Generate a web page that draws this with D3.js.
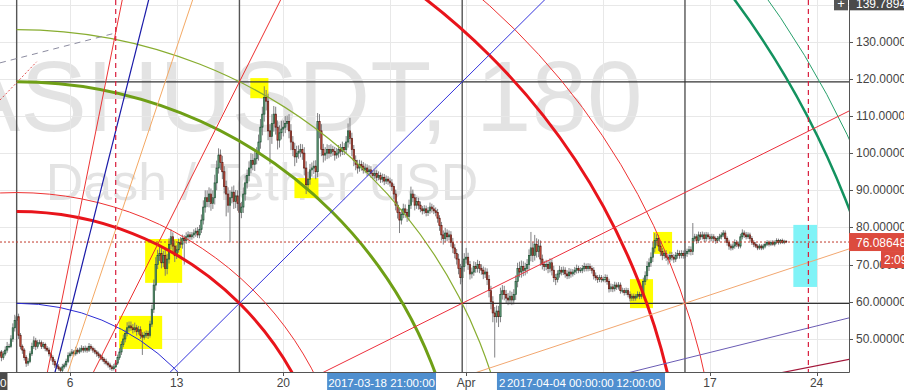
<!DOCTYPE html>
<html>
<head>
<meta charset="utf-8">
<script src="https://cdn.jsdelivr.net/npm/d3@7"></script>
<style>
  body { margin: 0; background: #fff; }
  svg { display: block; font-family: "Liberation Sans", Arial, sans-serif; }
</style>
</head>
<body>
<div id="chart"></div>
<script>
//////////
// DATA //
//////////

// 180 minute candles, first one opens 2017-03-01 00:00 UTC, one row per day
var firstCandle = "2017-03-01T00:00:00Z";
var candleHours = 3;
var firstOpen = 46.5;

var closes = [
  47, 46, 45.5, 46.5, 45, 46, 47, 48,
  48, 50, 53, 55, 56, 51, 48, 47,
  45, 43.5, 44, 46, 48, 49.5, 48, 49,
  49, 48, 48.5, 47.5, 47, 46, 45, 44,
  43, 42.5, 42, 41.5, 42.5, 43, 44, 45.5,
  46, 46.5, 46, 47, 46.5, 47, 47.5, 47,
  47.5, 47, 48, 47.5, 47, 46.5, 46, 45.5,
  45, 44.5, 44, 43.5, 43, 42.5, 42, 42.5,
  43.5, 45, 46.5, 48.5, 50, 51.5, 53, 53.5,
  53, 52.5, 53, 52, 52.5, 51, 50.5, 51,
  51.5, 51, 54, 58, 64.5, 70, 72.5, 73,
  70.5, 72.5, 69, 71.5, 75.5, 77.5, 75, 72.5,
  74, 76, 75.5, 77, 76.5, 77.5, 78, 77.5,
  78, 78.5, 79, 78, 79.5, 82, 85.5, 88,
  87, 89, 86.5, 88, 92, 96, 99.5, 97.5,
  95, 91, 89, 86, 88, 89.5, 87, 88.5,
  86.5, 84, 85.5, 89, 92, 94, 96, 98,
  97, 98.5, 100, 103, 107, 110.5, 115, 114,
  106, 104.5, 108, 110.5, 107, 103.5, 105.5, 106.5,
  107, 108, 108.5, 106, 103, 101, 99, 100,
  100.5, 101, 100, 96, 91.5, 93, 95.5, 96,
  96.5, 95, 108.5, 106, 101, 99.5, 100, 101,
  100, 101, 100.5, 99.5, 100, 101, 100.5, 101.5,
  101, 103, 106, 104, 101, 98, 97, 96,
  97, 96.5, 95.5, 96, 95, 95.5, 94.5, 94,
  94.5, 93.5, 94, 93, 93.5, 92.5, 93, 92.5,
  92, 91, 89, 86, 84, 82, 83.5, 85,
  84, 83, 86, 89, 88, 86, 87, 86,
  85, 84.5, 85, 84, 84.5, 85.5, 85, 84.5,
  84, 82.5, 80.5, 78, 77, 78.5, 77.5, 78,
  76, 74.5, 73, 71.5, 69, 66.5, 69.5, 71.5,
  72, 70, 67.5, 68, 69.5, 69, 70, 69,
  68.5, 67.5, 68, 66, 63, 60, 57, 56,
  57.5, 56, 62, 63, 62, 61, 60.5, 61.5,
  60.5, 62, 65.5, 69, 68, 69.5, 68.5, 69,
  70, 72.5, 74.5, 72.5, 75.5, 73.5, 75, 71.5,
  70, 69.5, 70, 69, 70.5, 68.5, 66.5, 66,
  67.5, 68.5, 68, 68.5, 67.5, 67, 68, 67.5,
  68, 68.5, 69, 68.5, 68.5, 69, 69.5, 69,
  69.5, 69, 68.5, 67, 66.5, 66, 66.5, 66,
  66, 66.5, 65.5, 63.5, 64, 63.5, 64.5, 64,
  64.5, 63, 63, 62.5, 63, 62, 61, 61.5,
  61, 61.5, 62, 61.5, 62, 65.5, 67, 69.5,
  70.5, 72, 74.5, 76.5, 77, 75, 73.5, 72.5,
  73, 72, 71.5, 72.5, 72, 71.5, 72.5, 73,
  72.5, 73, 72.5, 73, 73.5, 74, 73.5, 77,
  77.5, 76.5, 78, 77.5, 78, 77, 78, 77.5,
  77, 77.5, 77, 76.5, 77, 77.5, 78, 78.5,
  77, 76, 75, 74.5, 75, 76, 75.5, 75,
  77.5, 78.5, 78, 77.5, 78, 77, 76, 75.5,
  75, 74.5, 75, 74.5, 75, 75.5, 76, 75.5,
  76, 75.5, 76, 76.5, 76, 76.5, 76, 76.3,
  76.0865
];

// how far the high sits above the body top and the low under the body bottom
var upperWicks = [
  .8, .6, .7, 1, .5, .8, 1, 1.2,
  .7, 1, 1.2, 1.5, 3.6, .8, .6, .5,
  .5, .6, .8, .7, 1, 1.2, .8, .7,
  .8, .6, .7, .5, .6, .7, .5, .6,
  .6, .5, .7, .5, .8, .6, .7, .9,
  .6, .8, .5, .9, .6, .7, .8, .6,
  .7, .5, .9, .6, .5, .6, .5, .6,
  .5, .6, .5, .7, .5, .6, .5, .8,
  .6, .8, 1, .9, 1.2, 1, 1.5, 1.2,
  1.2, 1, 1.4, .8, 1, .9, .8, 1,
  .8, .7, .9, 1.2, 1.5, 2, 1.5, 1.8,
  1.5, 1.2, 1.8, 1.4, 1.6, 2, 1.2, 1.5,
  1.2, 1, 1.4, 1.1, .9, 1.2, 1, .8,
  .8, 1, .9, 1.1, 1.2, 1.5, 1.8, 2,
  2, 1.8, 1.5, 2, 2.2, 2, 1.8, 1.5,
  1.8, 1.5, 1.6, 1.8, 2, 1.5, 1.8, 1.6,
  1.5, 1.6, 1.4, 1.8, 2, 1.6, 1.8, 2,
  1.8, 2, 1.6, 2, 2.2, 2, 3, 2,
  2, 1.8, 2.5, 2.2, 2, 1.8, 2, 2.2,
  1.8, 2, 1.6, 2, 1.8, 1.6, 1.8, 2,
  1.6, 1.5, 1.4, 1.6, 1.8, 2, 1.6, 1.5,
  1.5, 1.6, 2.3, 2, 1.8, 1.5, 1.6, 1.4,
  1.2, 1.4, 1, 1.2, 1.4, 1.2, 1.5, 1.6,
  1.2, 1.6, 2, 3.5, 1.5, 1.2, 1.4, 1.2,
  1.2, 1, 1.1, 1.2, 1, 1.2, 1, .9,
  1, .9, 1.1, .8, 1, .9, 1, .8,
  .9, 1, .8, 1.2, 1, 1.2, 1.5, 1.4,
  1.2, 1, 1.5, 2, 1.2, 1, 1.2, 1,
  1, .8, 1, .9, 1, 1.2, .9, 1,
  .9, 1, .8, 1, 1.2, 1.4, 1, 1.2,
  1, 1.2, 1, 1.2, 1.4, 1.2, 1.5, 1.6,
  2.5, 1.2, 1, 1.2, 1.4, 1.2, 1.3, 1,
  1.1, 1, 1.2, 1, 1.2, 1.3, 1.5, 1.6,
  1.5, 1.4, 1.8, 1.5, 1.3, 1.2, 1.4, 1.5,
  1.2, 1.4, 1.6, 1.5, 1.8, 1.6, 1.4, 1.5,
  1.5, 1.6, 4.3, 1.5, 2.5, 1.6, 1.8, 1.5,
  1.2, 1, 1.3, 1.1, 1.2, 1, 1.2, 1,
  1, 1.2, .9, 1, .8, 1, 1.1, .9,
  .8, .9, 1, .7, .8, .9, 1, .8,
  .9, .8, .7, .8, .9, .7, .8, .7,
  .8, .9, .8, .7, .9, .8, .9, .7,
  .8, .7, .8, .7, .8, .7, .8, .7,
  .7, .6, .8, .7, .8, 1, 1.2, 1.4,
  1.2, 1.3, 1.5, 2, 1.2, 1, 1.1, 1,
  1, .9, .8, 1, .9, .8, .9, 1,
  .8, .9, .8, .9, .8, 1, .9, 4.2,
  .8, .7, .9, .8, .9, .7, .8, .7,
  .7, .8, .7, .6, .7, .8, .7, .8,
  .7, .6, .7, .6, .7, .8, .6, .7,
  .8, 1, .7, .8, .7, .6, .7, .6,
  .6, .5, .6, .5, .6, .5, .6, .5,
  .5, .6, .5, .6, .5, .4, .5, .4,
  .3
];

var lowerWicks = [
  .6, .8, .7, .5, 1, .6, .5, .7,
  .5, .4, .8, 1, 1.2, 1, .8, 1,
  .8, 1, .7, .5, .6, .7, 1, .6,
  .5, .7, .6, .8, .5, .7, .8, 1,
  .8, .6, .5, .6, .4, .5, .6, .5,
  .5, .6, .7, .5, .6, .5, .6, .7,
  .6, .7, .5, .6, .7, .6, .8, .7,
  .7, .6, .8, .6, .7, .8, .6, .5,
  .4, .5, .6, .8, .7, .9, .8, 1,
  .8, 1, .7, 1.1, .8, 1, 4.8, .7,
  .7, 1, .6, .8, 1, 1.5, 1.2, 1.5,
  1.5, 1.2, 2, 1.6, 1.2, 1.4, 1.5, 1.8,
  1, .8, 1, 1.2, 6.5, .9, 1, .8,
  .8, .9, 1, .8, .9, 1, 1.2, 1.5,
  1.5, 1.6, 2, 1.5, 1.8, 2, 1.5, 2,
  2, 1.8, 6, 2, 10, 1.5, 2, 1.8,
  2, 3.5, 1.5, 1.6, 1.8, 1.5, 1.6, 1.4,
  1.6, 1.8, 1.5, 2, 1.8, 2.2, 2, 2.5,
  2.5, 7.5, 2, 2.2, 2, 2.5, 2, 1.8,
  2, 1.6, 1.8, 2, 2.2, 1.8, 2.5, 1.6,
  1.5, 1.6, 1.8, 2, 2.5, 1.6, 1.5, 1.8,
  1.6, 2, 1.5, 2, 1.8, 2, 1.5, 1.6,
  1.4, 1, 1.2, 1.5, 1, 1.2, 1.4, 1,
  1.5, 1.2, 1.5, 1.6, 1.8, 1.5, 1.6, 1.5,
  1, 1.2, 1, .9, 1.2, 1, 1.1, 1,
  .9, 1, .8, 1, .9, 1.1, .8, 1,
  1, 1.2, 1.5, 1.4, 1.6, 3.5, 1.2, 1,
  1.4, 1.5, 1.2, 1, 1.2, 1.4, 1, 1.2,
  .9, 1, .8, 1, .9, .8, 1, .9,
  1, 1.2, 1.4, 1.5, 1.6, 1, 1.2, 1,
  1.2, 1.4, 1.3, 1.5, 1.6, 1.8, 1.2, 1.4,
  1.2, 1.4, 1.5, 1.2, 1, 1.2, 1.1, 1.3,
  1.2, 1.4, 1.1, 1.5, 1.8, 2, 2.5, 11,
  1.6, 2.8, 1.5, 1.4, 1.6, 1.5, 1.4, 1.2,
  1.4, 1.2, 1.5, 1.6, 1.4, 1.5, 1.6, 1.4,
  1.4, 1.5, 1.6, 1.8, 1.4, 1.6, 1.5, 1.8,
  1.3, 1.2, 1, 1.3, 1.1, 1.4, 1.2, 1.5,
  .8, 1, .9, .8, 1, .9, .8, 1,
  .7, .8, .9, .8, .7, .8, .9, .8,
  .8, .7, .9, 1, .8, .9, .7, .8,
  .7, .8, .9, 1, .8, .9, .7, .8,
  .7, .8, .7, .8, .7, .8, .9, .8,
  .8, .7, .6, .8, .7, .8, 1, 1.2,
  1.2, 1.1, 1.3, 1.2, 1.4, 1.3, 1.2, 1.3,
  .9, 1, 1.5, .8, .9, 1, .8, .9,
  .9, .8, .9, .8, .9, .8, 1, .9,
  .8, .9, .7, .8, .7, .9, .8, .7,
  .8, .7, .8, .9, .7, .8, .7, .6,
  .8, .9, 1, .7, .6, .7, .8, .7,
  .6, .7, .8, .7, .6, .8, .7, .8,
  .5, .6, .5, .6, .5, .6, .5, .6,
  .5, .4, .6, .5, .6, .5, .4, .5,
  .3
];

var lastPrice = 76.086480;
var crosshairPrice = 139.78940;
var crosshairTime = "2017-03-01T21:30:00Z";
var crosshairTimeText = "2017-03-01 21:00:00";
var countdownText = "2:09";

// price axis
var priceTicks = [50, 60, 70, 80, 90, 100, 110, 120, 130, 140];

// time axis
var timeTicks = ["2017-03-06", "2017-03-13", "2017-03-20", "2017-03-27",
                 "2017-04-01", "2017-04-10", "2017-04-17", "2017-04-24"];
var timeTickLabels = ["6", "13", "20", "27", "Apr", "10", "17", "24"];

// gann square + fan + circles, anchored on one corner
var gannOrigin = { time: "2017-03-02T12:00:00Z", price: 0 };
var gannStepDays = 14.62;
var gannStepPrice = 59.6;
var gannColumns = [0, 1, 2, 3];
var gannRows = [1, 2];
var gannCircleLevels = [1, 2, 2.25, 4, 5, 9, 10, 16, 17];
var gannFanRatios = [[1, 5], [1, 4], [1, 3], [1, 2], [1, 1], [2, 1], [3, 1], [4, 1], [5, 1]];

// highlight boxes: from, to, top price, bottom price
var yellowBoxes = [
  ["2017-03-17T20:00:00Z", "2017-03-19T00:30:00Z", 120.2, 114.8],
  ["2017-03-20T17:30:00Z", "2017-03-22T07:20:00Z", 93.3, 87.9],
  ["2017-03-10T22:20:00Z", "2017-03-13T08:40:00Z", 76.9, 65.1],
  ["2017-03-09T05:20:00Z", "2017-03-12T01:10:00Z", 56.2, 47.3],
  ["2017-04-13T06:20:00Z", "2017-04-14T12:20:00Z", 78.8, 72.9],
  ["2017-04-11T18:00:00Z", "2017-04-13T06:20:00Z", 66.1, 58.3]
];
var cyanBox = ["2017-04-22T11:20:00Z", "2017-04-24T00:40:00Z", 80.7, 64.0];

// vertical dashed lines
var dashedVerticals = ["2017-03-09T00:00:00Z", "2017-04-23T11:00:00Z"];

// pieces of other drawings reaching in from the left
var greyDashedSegment = [["2017-03-01T09:45:00Z", 124.3], ["2017-03-08T22:50:00Z", 132.3]];
var redDottedSegment = [["2017-03-01T09:45:00Z", 114.3], ["2017-03-03T19:30:00Z", 124.6]];

// selected drawing time labels on the axis
var axisBadges = [
  { from: "2017-03-22T21:00:00Z", to: "2017-03-30T00:30:00Z", texts: ["2017-03-18 21:00:00"] },
  { from: "2017-04-03T00:30:00Z", to: "2017-04-14T01:10:00Z", texts: ["2", "2017-04-04 00:00:00", "12:00:00"] }
];

var watermarkTitle = "DASHUSDT, 180";
var watermarkSub = "Dash / Tether USD";

////////////
// STYLES //
////////////

var circleStyles = [
  { color: "#2c2cd4", width: 1 },
  { color: "#e8141b", width: 3 },
  { color: "#ee3232", width: 1, half: true },
  { color: "#6f9f16", width: 3 },
  { color: "#88ad30", width: 1.2 },
  { color: "#e8141b", width: 3 },
  { color: "#ee3232", width: 1 },
  { color: "#13925f", width: 2.5 },
  { color: "#28a06c", width: 1 }
];
var fanStyles = [
  { color: "#ec3434", width: 1 },
  { color: "#1a1aa8", width: 1.2 },
  { color: "#f4a964", width: 1 },
  { color: "#ec2f2f", width: 1 },
  { color: "#3434dc", width: 1 },
  { color: "#ec2f3c", width: 1 },
  { color: "#f2a770", width: 1 },
  { color: "#6a5bb4", width: 1 },
  { color: "#a3173a", width: 1.2 }
];

//////////////////////////////
// SVG AND GRAPH DIMENSIONS //
//////////////////////////////

var svgWidth = 904, svgHeight = 390;
var plotWidth = 849, plotHeight = 372;

var svg = d3.select("#chart")
  .append("svg")
  .attr("width", svgWidth)
  .attr("height", svgHeight);

svg.append("rect")
  .attr("width", svgWidth)
  .attr("height", svgHeight)
  .attr("fill", "#fff");

svg.append("defs").append("clipPath")
  .attr("id", "plotClip")
  .append("rect")
  .attr("width", plotWidth)
  .attr("height", plotHeight);

var x = d3.scaleUtc()
  .domain([new Date("2017-03-01T09:45:00Z"), new Date("2017-04-26T03:00:00Z")])
  .range([0, plotWidth]);

var y = d3.scaleLinear()
  .domain([41.11, 141.22])
  .range([plotHeight, 0]);

var pane = svg.append("g").attr("clip-path", "url(#plotClip)");

///////////////
// WATERMARK //
///////////////

// centred on the full chart pane, which is wider than this crop
var watermarkCenter = 262;
pane.append("text")
  .attr("x", watermarkCenter)
  .attr("y", 131)
  .attr("text-anchor", "middle")
  .style("font-size", "100px")
  .attr("fill", "rgba(0,0,0,0.11)")
  .text(watermarkTitle);

pane.append("text")
  .attr("x", watermarkCenter)
  .attr("y", 200)
  .attr("text-anchor", "middle")
  .style("font-size", "52px")
  .attr("fill", "rgba(0,0,0,0.11)")
  .text(watermarkSub);

//////////
// GRID //
//////////

function tickX(d) { return x(new Date(d + "T00:00:00Z")); }

pane.selectAll(".hgrid")
  .data(priceTicks)
  .enter().append("line")
  .attr("x1", 0).attr("x2", plotWidth)
  .attr("y1", function (d) { return Math.round(y(d)) + 0.5; })
  .attr("y2", function (d) { return Math.round(y(d)) + 0.5; })
  .attr("stroke", "#e8e8e8");

pane.selectAll(".vgrid")
  .data(timeTicks)
  .enter().append("line")
  .attr("x1", function (d) { return Math.round(tickX(d)) + 0.5; })
  .attr("x2", function (d) { return Math.round(tickX(d)) + 0.5; })
  .attr("y1", 0).attr("y2", plotHeight)
  .attr("stroke", "#e8e8e8");

////////////////
// HIGHLIGHTS //
////////////////

function boxAttrs(sel) {
  sel.attr("x", function (d) { return x(new Date(d[0])); })
    .attr("width", function (d) { return x(new Date(d[1])) - x(new Date(d[0])); })
    .attr("y", function (d) { return y(d[2]); })
    .attr("height", function (d) { return y(d[3]) - y(d[2]); });
}

pane.selectAll(".yellow")
  .data(yellowBoxes)
  .enter().append("rect")
  .call(boxAttrs)
  .attr("fill", "#ffff00");

pane.selectAll(".cyan")
  .data([cyanBox])
  .enter().append("rect")
  .call(boxAttrs)
  .attr("fill", "#80f3f7");

/////////////
// CANDLES //
/////////////

var t0 = new Date(firstCandle);
var candles = closes.map(function (c, i) {
  var o = i === 0 ? firstOpen : closes[i - 1];
  return {
    t: d3.utcHour.offset(t0, i * candleHours),
    o: o,
    c: c,
    h: Math.max(o, c) + upperWicks[i],
    l: Math.min(o, c) - lowerWicks[i]
  };
});

var barStep = x(d3.utcHour.offset(t0, candleHours)) - x(t0);
var bodyWidth = barStep * 0.7;

pane.selectAll(".wick")
  .data(candles)
  .enter().append("line")
  .attr("x1", function (d) { return x(d.t); })
  .attr("x2", function (d) { return x(d.t); })
  .attr("y1", function (d) { return y(d.h); })
  .attr("y2", function (d) { return y(d.l); })
  .attr("stroke", "#737375")
  .attr("stroke-width", 0.9);

pane.selectAll(".body")
  .data(candles)
  .enter().append("rect")
  .attr("x", function (d) { return x(d.t) - bodyWidth / 2; })
  .attr("width", bodyWidth)
  .attr("y", function (d) { return y(Math.max(d.o, d.c)); })
  .attr("height", function (d) { return Math.max(0.6, Math.abs(y(d.o) - y(d.c))); })
  .attr("fill", function (d) { return d.c >= d.o ? "#6ba583" : "#d75442"; })
  .attr("stroke", function (d) { return d.c >= d.o ? "#225437" : "#5b1a13"; })
  .attr("stroke-width", 0.7);

//////////////
// DRAWINGS //
//////////////

var gx0 = x(new Date(gannOrigin.time));
var gy0 = y(gannOrigin.price);
var stepMs = gannStepDays * 864e5;
var unitX = x(new Date(new Date(gannOrigin.time).getTime() + stepMs)) - gx0;
var unitY = gy0 - y(gannOrigin.price + gannStepPrice);

// square grid
pane.selectAll(".gannCol")
  .data(gannColumns)
  .enter().append("line")
  .attr("x1", function (k) { return gx0 + k * unitX; })
  .attr("x2", function (k) { return gx0 + k * unitX; })
  .attr("y1", 0).attr("y2", plotHeight)
  .attr("stroke", "#555")
  .attr("stroke-width", 1.4);

pane.selectAll(".gannRow")
  .data(gannRows)
  .enter().append("line")
  .attr("x1", gx0).attr("x2", plotWidth)
  .attr("y1", function (k) { return gy0 - k * unitY; })
  .attr("y2", function (k) { return gy0 - k * unitY; })
  .attr("stroke", "#333")
  .attr("stroke-width", 1.3);

// circles
pane.selectAll(".gannCircle")
  .data(gannCircleLevels)
  .enter().append("path")
  .attr("d", function (n, i) {
    var rx = Math.sqrt(n) * unitX, ry = Math.sqrt(n) * unitY;
    if (circleStyles[i].half) {
      return "M" + (gx0 - rx) + "," + gy0 + "A" + rx + "," + ry + " 0 0 1 " + (gx0 + rx) + "," + gy0;
    }
    return "M" + gx0 + "," + (gy0 - ry) + "A" + rx + "," + ry + " 0 0 1 " + (gx0 + rx) + "," + gy0;
  })
  .attr("fill", "none")
  .attr("stroke", function (n, i) { return circleStyles[i].color; })
  .attr("stroke-width", function (n, i) { return circleStyles[i].width; });

// fan
pane.selectAll(".gannFan")
  .data(gannFanRatios)
  .enter().append("line")
  .attr("x1", gx0).attr("y1", gy0)
  .attr("x2", function (r) { return gx0 + 8 * r[0] * unitX; })
  .attr("y2", function (r) { return gy0 - 8 * r[1] * unitY; })
  .attr("stroke", function (r, i) { return fanStyles[i].color; })
  .attr("stroke-width", function (r, i) { return fanStyles[i].width; });

pane.selectAll(".vdash")
  .data(dashedVerticals)
  .enter().append("line")
  .attr("x1", function (d) { return x(new Date(d)); })
  .attr("x2", function (d) { return x(new Date(d)); })
  .attr("y1", 0).attr("y2", plotHeight)
  .attr("stroke", "#d81c3c")
  .attr("stroke-width", 1.2)
  .attr("stroke-dasharray", "5,4");

var segLine = d3.line()
  .x(function (d) { return x(new Date(d[0])); })
  .y(function (d) { return y(d[1]); });

pane.append("path")
  .attr("d", segLine(greyDashedSegment))
  .attr("fill", "none")
  .attr("stroke", "#8c8ca0")
  .attr("stroke-dasharray", "6,5");

pane.append("path")
  .attr("d", segLine(redDottedSegment))
  .attr("fill", "none")
  .attr("stroke", "#e05050")
  .attr("stroke-dasharray", "2,2");

// last price line
pane.append("line")
  .attr("x1", 0).attr("x2", plotWidth)
  .attr("y1", y(lastPrice)).attr("y2", y(lastPrice))
  .attr("stroke", "#c0392b")
  .attr("stroke-dasharray", "2,2");

//////////
// AXES //
//////////

var axisColor = "#555", labelColor = "#444";

svg.append("line")
  .attr("x1", 0).attr("x2", plotWidth + 0.5)
  .attr("y1", plotHeight + 0.5).attr("y2", plotHeight + 0.5)
  .attr("stroke", axisColor);

svg.append("line")
  .attr("x1", plotWidth + 0.5).attr("x2", plotWidth + 0.5)
  .attr("y1", 0).attr("y2", plotHeight + 0.5)
  .attr("stroke", axisColor);

var fmt = d3.format(".6f");
var chY = y(crosshairPrice);

// the crosshair badge hides the price label it sits on
var shownPriceTicks = priceTicks.filter(function (d) { return Math.abs(y(d) - chY) > 12; });

var priceAxis = svg.append("g");
priceAxis.selectAll("line")
  .data(priceTicks)
  .enter().append("line")
  .attr("x1", plotWidth).attr("x2", plotWidth + 4)
  .attr("y1", function (d) { return Math.round(y(d)) + 0.5; })
  .attr("y2", function (d) { return Math.round(y(d)) + 0.5; })
  .attr("stroke", axisColor);
priceAxis.selectAll("text")
  .data(shownPriceTicks)
  .enter().append("text")
  .attr("x", plotWidth + 7)
  .attr("y", function (d) { return y(d) + 4; })
  .style("font-size", "12px")
  .attr("fill", labelColor)
  .text(function (d) { return fmt(d); });

// the drawing badges hide the date labels under them
function underBadge(px) {
  return axisBadges.some(function (b) {
    return px > x(new Date(b.from)) - 8 && px < x(new Date(b.to)) + 8;
  });
}

var timeAxis = svg.append("g");
timeAxis.selectAll("line")
  .data(timeTicks)
  .enter().append("line")
  .attr("x1", function (d) { return Math.round(tickX(d)) + 0.5; })
  .attr("x2", function (d) { return Math.round(tickX(d)) + 0.5; })
  .attr("y1", plotHeight).attr("y2", plotHeight + 4)
  .attr("stroke", axisColor);
timeAxis.selectAll("text")
  .data(timeTicks.map(function (d, i) { return [d, timeTickLabels[i]]; })
    .filter(function (d) { return !underBadge(tickX(d[0])); }))
  .enter().append("text")
  .attr("x", function (d) { return tickX(d[0]); })
  .attr("y", plotHeight + 15)
  .attr("text-anchor", "middle")
  .style("font-size", "12px")
  .attr("fill", labelColor)
  .text(function (d) { return d[1]; });

// selected drawing time badges
axisBadges.forEach(function (b) {
  var bx0 = x(new Date(b.from)), bx1 = x(new Date(b.to));
  svg.append("rect")
    .attr("x", bx0).attr("y", plotHeight + 1)
    .attr("width", bx1 - bx0).attr("height", svgHeight - plotHeight - 1)
    .attr("fill", "#4f8fcf");
  b.texts.forEach(function (t, i) {
    var tx = svg.append("text")
      .attr("y", plotHeight + 15)
      .style("font-size", "11.5px")
      .attr("fill", "#fff")
      .text(t);
    if (b.texts.length === 1) {
      tx.attr("x", (bx0 + bx1) / 2).attr("text-anchor", "middle");
    } else if (i === 0) {
      tx.attr("x", bx0 + 2);
    } else if (i === b.texts.length - 1) {
      tx.attr("x", bx1 - 4).attr("text-anchor", "end");
    } else {
      tx.attr("x", bx0 + 10);
    }
  });
});

// crosshair time badge at the left edge
var chX = x(new Date(crosshairTime));
svg.append("rect")
  .attr("x", chX - 120).attr("y", plotHeight + 1)
  .attr("width", 120).attr("height", svgHeight - plotHeight - 1)
  .attr("fill", "#4a4a4a");
svg.append("text")
  .attr("x", chX - 1).attr("y", plotHeight + 15)
  .attr("text-anchor", "end")
  .style("font-size", "11.5px")
  .attr("fill", "#fff")
  .text(crosshairTimeText);

// crosshair price badge and plus button
svg.append("rect")
  .attr("x", plotWidth).attr("y", chY - 12)
  .attr("width", svgWidth - plotWidth).attr("height", 17)
  .attr("fill", "#4a4a4a");
svg.append("text")
  .attr("x", plotWidth + 7).attr("y", chY + 3)
  .style("font-size", "12px")
  .attr("fill", "#fff")
  .text(crosshairPrice.toFixed(5));
svg.append("rect")
  .attr("x", plotWidth - 15).attr("y", chY - 12)
  .attr("width", 14).attr("height", 17)
  .attr("fill", "#555");
svg.append("text")
  .attr("x", plotWidth - 8).attr("y", chY + 3)
  .attr("text-anchor", "middle")
  .style("font-size", "13px")
  .attr("fill", "#fff")
  .text("+");

// last price badge and countdown
var lpY = y(lastPrice);
svg.append("rect")
  .attr("x", plotWidth).attr("y", lpY - 9)
  .attr("width", svgWidth - plotWidth).attr("height", 18)
  .attr("fill", "#dc4b3e");
svg.append("text")
  .attr("x", plotWidth + 7).attr("y", lpY + 4.5)
  .style("font-size", "12px")
  .attr("fill", "#fff")
  .text(fmt(lastPrice));
svg.append("rect")
  .attr("x", svgWidth - 23).attr("y", lpY + 9)
  .attr("width", 23).attr("height", 17)
  .attr("fill", "#dc4b3e");
svg.append("text")
  .attr("x", svgWidth - 20).attr("y", lpY + 22)
  .style("font-size", "12px")
  .attr("fill", "#fff")
  .text(countdownText);
</script>
</body>
</html>
